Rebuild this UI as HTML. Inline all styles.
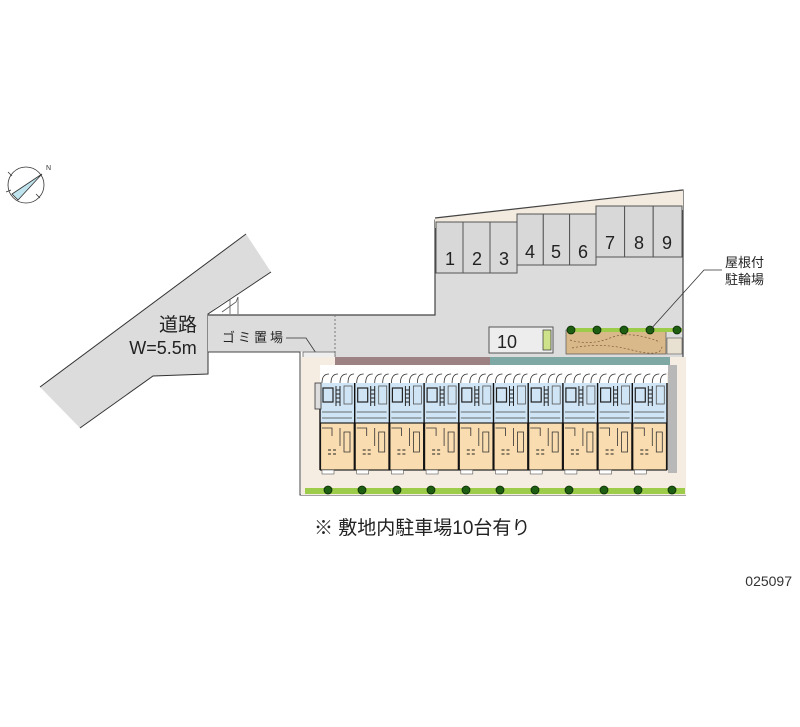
<!DOCTYPE html>
<html><head><meta charset="utf-8"><style>
html,body{margin:0;padding:0;background:#fff;}
svg{display:block;}
text{font-family:"Liberation Sans","Noto Sans CJK JP",sans-serif;}
</style></head><body>
<svg width="800" height="727" viewBox="0 0 800 727" xmlns="http://www.w3.org/2000/svg">
<defs>
<g id="unit">
  <rect x="0" y="372" width="34.7" height="11" fill="#fff"/>
  <path d="M2 383 q0 -9 7 -9 M11 383 q0 -9 7 -9 M20 383 q0 -9 7 -9 M28 383 q0 -9 6 -9" stroke="#333" stroke-width="0.8" fill="none"/>
  <rect x="0" y="383" width="34.7" height="40" fill="#cfe4f4"/>
  <rect x="3" y="388" width="10" height="14" fill="none" stroke="#222" stroke-width="1.2"/>
  <path d="M16 386 v20 M20 386 v20 M16 390 h4 M16 394 h4 M16 398 h4 M16 402 h4" stroke="#222" stroke-width="1"/>
  <rect x="24" y="386" width="8" height="18" fill="none" stroke="#555" stroke-width="0.8"/>
  <path d="M2 412 h30 M2 418 h30" stroke="#444" stroke-width="0.8"/>
  <rect x="0" y="423" width="34.7" height="47" fill="#f9dcb0"/>
  <rect x="0.5" y="423" width="33.7" height="47" fill="none" stroke="#222" stroke-width="1.2"/>
  <path d="M2 428 h10 v8 M20 428 v18 M24 432 h6 v20 h-6z" stroke="#333" stroke-width="0.8" fill="none"/>
  <path d="M8 450 h3 M13 450 h3 M8 454 h3 M13 454 h3" stroke="#222" stroke-width="1"/>
  <rect x="2" y="470" width="12" height="4" fill="#fff" stroke="#555" stroke-width="0.6"/>
  <path d="M0 383 v87" stroke="#111" stroke-width="1.4"/>
</g>
<g id="tree"><circle r="4" fill="#1e5e12" stroke="#0a2a05" stroke-width="0.8"/></g>
</defs>

<!-- compass -->
<g stroke="#333" fill="none" stroke-width="0.8">
  <circle cx="26" cy="185" r="18"/>
  <path d="M12 194 L42 174 L18 200 Z" fill="#bfe4ee" stroke="#333"/>
  <path d="M8 172 l4 4 M40 198 l-4 -4 M6 192 l5 -2"/>
</g>
<text x="46" y="170" font-size="7" fill="#333">N</text>

<!-- road -->
<polygon points="40,387 246,234 271,272 218,306 208,314 208,374 153,376 80,428" fill="#dcdcdc"/>
<path d="M40,387 L246,234 M271,272 L208,314 L208,374 L153,376 L80,428" stroke="#333" stroke-width="1" fill="none"/>
<path d="M222,312 L236,302 L238,297 V314 M230,314 V300" stroke="#555" stroke-width="0.8" fill="none"/>
<text x="178" y="331" font-size="19" text-anchor="middle" fill="#222">道路</text>
<text x="163" y="354" font-size="18" text-anchor="middle" fill="#222">W=5.5m</text>

<!-- corridor & lot gray -->
<polygon points="208,315 435,315 435,220 683,190 683,357 335,357 335,352 208,352" fill="#dcdcdc"/>
<path d="M208,315 H435 V220 L683,190 V495" stroke="#444" stroke-width="1.2" fill="none"/>
<path d="M208,352 H300 V495 H686" stroke="#444" stroke-width="1" fill="none"/>
<path d="M335,315 V356" stroke="#777" stroke-width="1" stroke-dasharray="2,2"/>
<polygon points="435,218 683,190 683,210 435,228" fill="#f3ebe0"/>
<path d="M435,218 L683,190" stroke="#444" stroke-width="1.2"/>
<text x="222" y="342" font-size="13" fill="#222" letter-spacing="3">ゴミ置場</text>
<path d="M286,338 H306 L318,356" stroke="#333" stroke-width="0.8" fill="none"/>
<rect x="303" y="352" width="32" height="8" fill="#eee" stroke="#555" stroke-width="0.7"/>

<!-- parking stalls -->
<g stroke="#555" stroke-width="1" fill="#d8d8d8">
  <rect x="436" y="222" width="27" height="51"/><rect x="463" y="222" width="27" height="51"/><rect x="490" y="222" width="27" height="51"/>
  <rect x="517" y="214" width="26.3" height="51"/><rect x="543.3" y="214" width="26.3" height="51"/><rect x="569.6" y="214" width="26.4" height="51"/>
  <rect x="596" y="206" width="28.6" height="51"/><rect x="624.6" y="206" width="28.6" height="51"/><rect x="653.2" y="206" width="28.8" height="51"/>
</g>
<g font-size="18" fill="#222" text-anchor="middle">
  <text x="450" y="265">1</text><text x="477" y="265">2</text><text x="504" y="265">3</text>
  <text x="530" y="258">4</text><text x="556" y="258">5</text><text x="583" y="258">6</text>
  <text x="610" y="249">7</text><text x="639" y="249">8</text><text x="667" y="249">9</text>
</g>

<!-- stall 10 & bike -->
<rect x="489" y="327" width="64" height="26" fill="#ededed" stroke="#555" stroke-width="1"/>
<text x="507" y="348" font-size="18" fill="#222" text-anchor="middle">10</text>
<rect x="543" y="330" width="8" height="20" fill="#cde28a" stroke="#333" stroke-width="0.7"/>
<rect x="566" y="330" width="100" height="24" fill="#d9b98a" stroke="#555" stroke-width="0.7"/>
<path d="M570 340 q20 6 40 -2 t50 4 M572 348 q30 -6 60 2 t30 -4" stroke="#7a5a3a" stroke-dasharray="2,2" fill="none" stroke-width="0.7"/>
<rect x="667" y="338" width="15" height="16" fill="#e8e0d0" stroke="#555" stroke-width="0.6"/>
<rect x="568" y="328" width="114" height="4" fill="#9ccc4a"/>
<g><use href="#tree" x="571" y="330"/><use href="#tree" x="597" y="330"/><use href="#tree" x="624" y="330"/><use href="#tree" x="650" y="330"/><use href="#tree" x="677" y="330"/></g>
<text x="725" y="267" font-size="13" fill="#222">屋根付</text>
<text x="725" y="284" font-size="13" fill="#222">駐輪場</text>
<path d="M722,270 H704 L650,330" stroke="#333" stroke-width="0.8" fill="none"/>

<!-- site -->
<rect x="301" y="357" width="385" height="138" fill="#f6ede2"/>
<rect x="335" y="357" width="155" height="8" fill="#9c8282"/>
<rect x="490" y="357" width="180" height="8" fill="#7da8a4"/>
<rect x="668" y="365" width="9" height="108" fill="#b8b8b8"/>
<rect x="320" y="365" width="348" height="7" fill="#fff"/>
<use href="#unit" x="320"/><use href="#unit" x="354.7"/><use href="#unit" x="389.4"/><use href="#unit" x="424.1"/><use href="#unit" x="458.8"/>
<use href="#unit" x="493.5"/><use href="#unit" x="528.2"/><use href="#unit" x="562.9"/><use href="#unit" x="597.6"/><use href="#unit" x="632.3"/>
<path d="M667 383 v87" stroke="#111" stroke-width="1.4"/>
<rect x="315" y="383" width="6" height="26" fill="#ddd" stroke="#333" stroke-width="0.8"/>
<rect x="305" y="488" width="380" height="6" fill="#9ccc4a"/>
<g><use href="#tree" x="328" y="490"/><use href="#tree" x="362" y="490"/><use href="#tree" x="397" y="490"/><use href="#tree" x="431" y="490"/><use href="#tree" x="466" y="490"/><use href="#tree" x="500" y="490"/><use href="#tree" x="535" y="490"/><use href="#tree" x="569" y="490"/><use href="#tree" x="604" y="490"/><use href="#tree" x="638" y="490"/><use href="#tree" x="672" y="490"/></g>

<text x="314" y="534" font-size="19" fill="#222">※ 敷地内駐車場10台有り</text>
<text x="792" y="586" font-size="14" fill="#333" text-anchor="end">025097</text>
</svg>
</body></html>
